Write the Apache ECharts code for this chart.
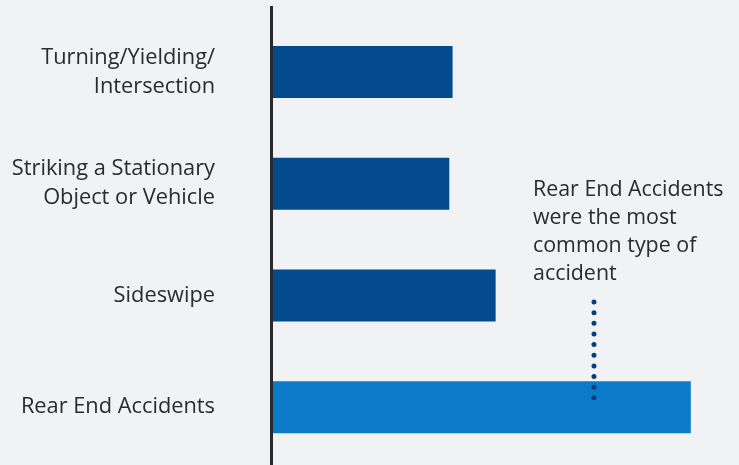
<!DOCTYPE html>
<html>
<head>
<meta charset="utf-8">
<script src="https://cdn.jsdelivr.net/npm/echarts@6/dist/echarts.min.js"></script>
<style>
html,body{margin:0;padding:0;background:#f1f2f4;}
#c{width:739px;height:465px;}
</style>
</head>
<body>
<div id="c"></div>
<script>
var categories = ["Turning/Yielding/\nIntersection", "Striking a Stationary\nObject or Vehicle", "Sideswipe", "Rear End Accidents"];
var values = [38.8, 38.1, 48.0, 89.7];
var highlight = [false, false, false, true];
var annotationText = "Rear End Accidents\nwere the most\ncommon type of\naccident";

var chart = echarts.init(document.getElementById('c'), null, {renderer: 'canvas'});
var font = '"Open Sans", "Noto Sans", sans-serif';
chart.setOption({
  backgroundColor: '#f1f2f4',
  animation: false,
  grid: {left: 271, right: 0, top: 16, bottom: 2, containLabel: false},
  xAxis: {type: 'value', min: 0, max: 100, show: false},
  yAxis: {
    type: 'category', inverse: true, data: categories,
    axisLine: {show: false}, axisTick: {show: false}, splitLine: {show: false},
    axisLabel: {margin: 56, fontSize: 21.8, lineHeight: 29, padding: [2, 0, 0, 0], color: '#2b2b2b', fontFamily: font, align: 'right'}
  },
  series: [{
    type: 'bar', barWidth: 52,
    data: values.map(function (v, i) {
      return {value: v, itemStyle: {color: highlight[i] ? '#0b7bc9' : '#034a8f'}};
    })
  }],
  graphic: [
    {type: 'line', z: 100, shape: {x1: 271.5, y1: 6, x2: 271.5, y2: 465}, style: {stroke: '#2a2a2c', lineWidth: 3}},
    {type: 'line', z: 100, shape: {x1: 594, y1: 302, x2: 594, y2: 398}, style: {stroke: '#0a3d7c', lineWidth: 5, lineDash: [0, 10.65], lineCap: 'round'}},
    {type: 'text', z: 100, x: 533, y: 176, style: {text: annotationText, fontSize: 21.4, lineHeight: 28, fill: '#2b2b2b', fontFamily: font, verticalAlign: 'top', align: 'left'}}
  ]
});
</script>
</body>
</html>
